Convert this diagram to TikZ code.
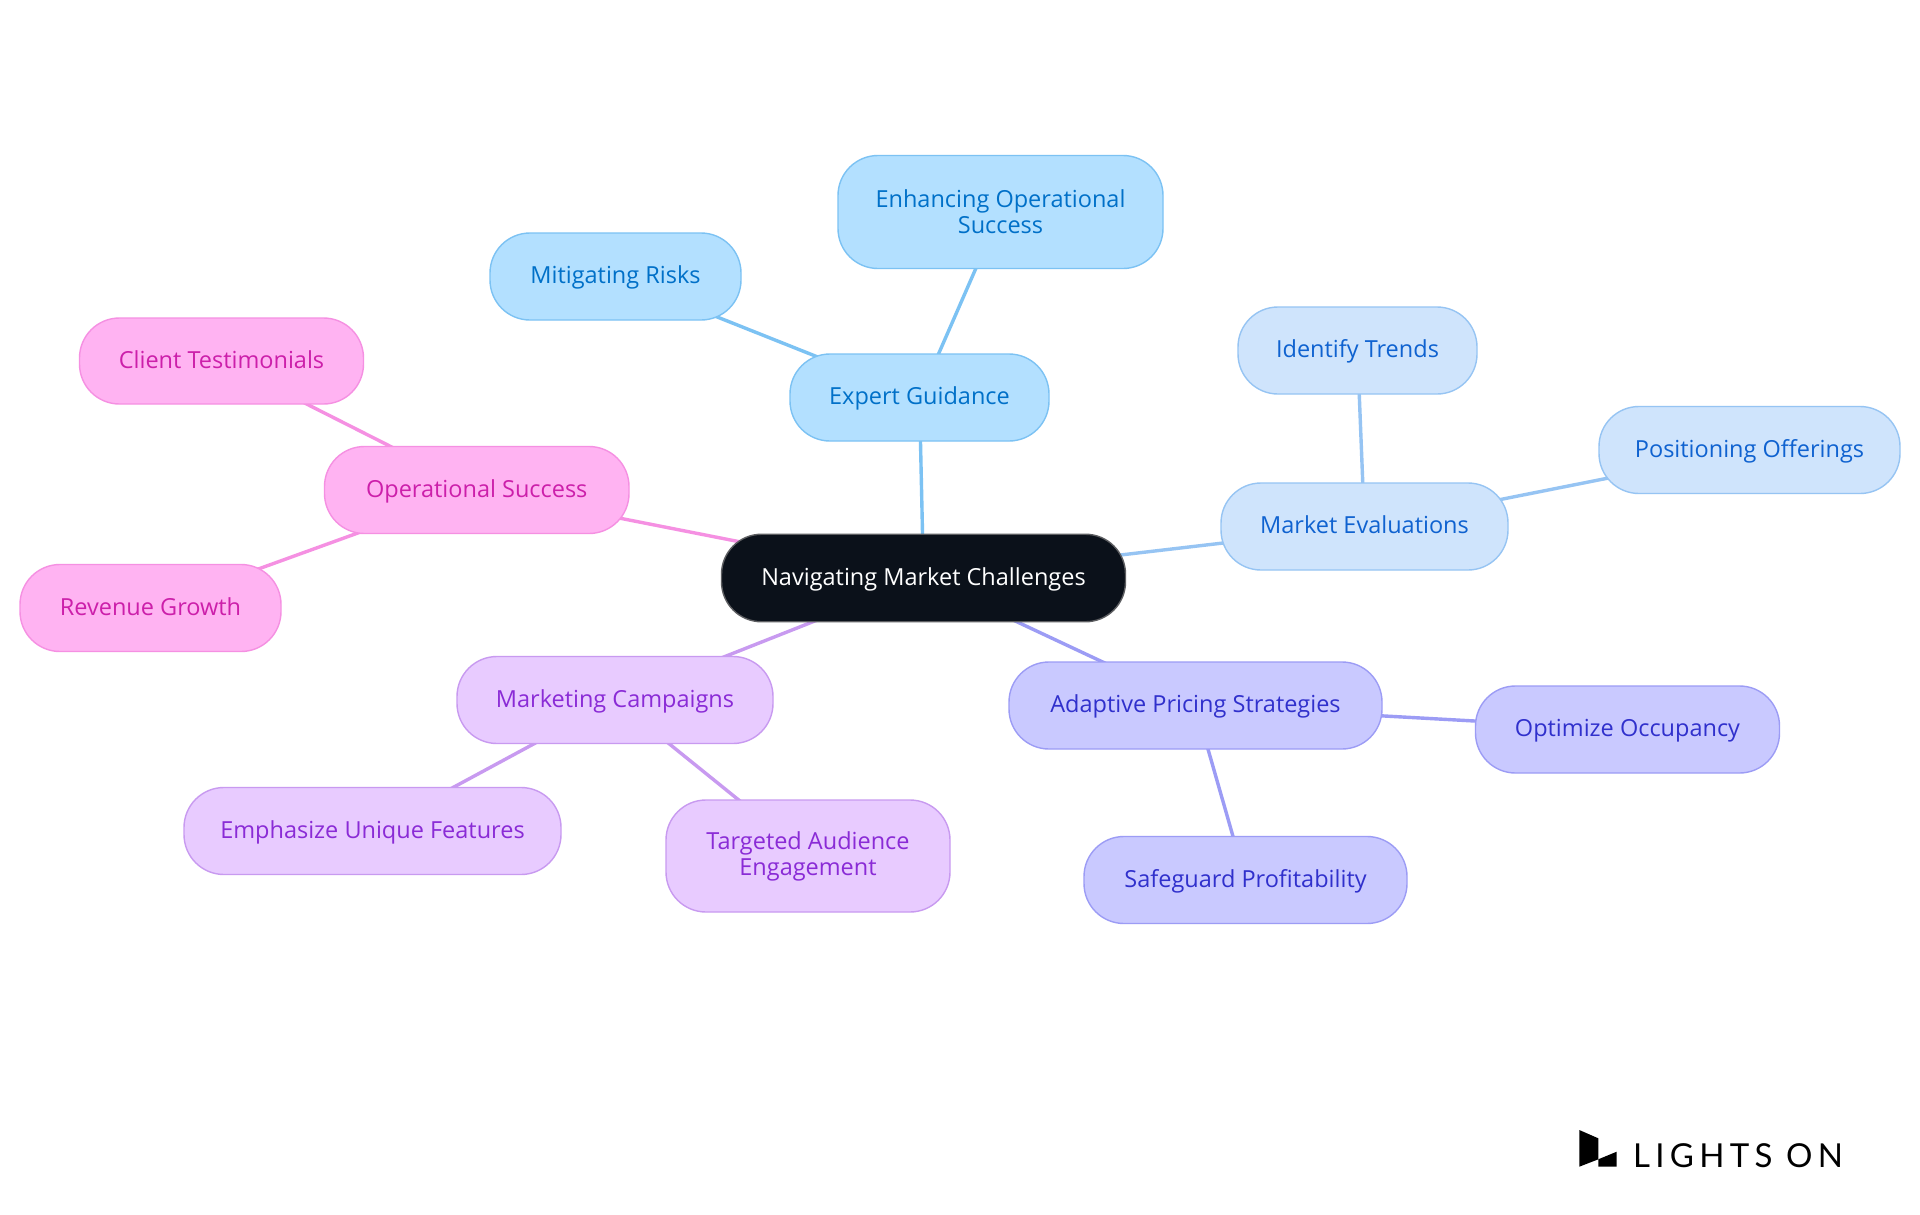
\documentclass[tikz,border=0pt]{standalone}
\usepackage{fontspec}
\setmainfont{Open Sans}
\newfontfamily\logofont[LetterSpace=16]{Lato}
\usetikzlibrary{backgrounds}
\definecolor{bluef}{HTML}{B3E0FF}\definecolor{blues}{HTML}{7CC2F3}\definecolor{bluet}{HTML}{0070C8}
\definecolor{markf}{HTML}{CFE4FC}\definecolor{marks}{HTML}{96C4F3}\definecolor{markt}{HTML}{0F62D0}
\definecolor{adapf}{HTML}{C9C9FF}\definecolor{adaps}{HTML}{9C9CF5}\definecolor{adapt}{HTML}{3030CC}
\definecolor{campf}{HTML}{E8CBFF}\definecolor{camps}{HTML}{C89AF0}\definecolor{campt}{HTML}{8A2BD6}
\definecolor{opsf}{HTML}{FFB3F2}\definecolor{opss}{HTML}{F590E2}\definecolor{opst}{HTML}{CC1FAA}
\definecolor{rootf}{HTML}{0B111A}
\tikzset{
  x=1pt,y=-1pt,
  pill/.style={rectangle,rounded corners=40pt,line width=1.4pt,inner sep=0pt,align=center,
    font=\fontsize{23.5}{26}\selectfont},
  oneline/.style={text height=18pt,text depth=4pt},
  rootn/.style={pill,fill=rootf,draw=gray!70!rootf,text=white},
  guide/.style={pill,fill=bluef,draw=blues,text=bluet},
  market/.style={pill,fill=markf,draw=marks,text=markt},
  adaptive/.style={pill,fill=adapf,draw=adaps,text=adapt},
  campaign/.style={pill,fill=campf,draw=camps,text=campt},
  opsucc/.style={pill,fill=opsf,draw=opss,text=opst},
  link/.style={line width=3.4pt}
}
\begin{document}
\begin{tikzpicture}
\useasboundingbox (0,0) rectangle (1920,1215);
\node[rootn,oneline,minimum width=404pt,minimum height=87.5pt] (root) at (923.5,578) {Navigating Market Challenges};
\node[guide,oneline,minimum width=259pt,minimum height=87pt] (expert) at (919.5,397.5) {Expert Guidance};
\node[guide,minimum width=325pt,minimum height=113pt] (enh) at (1000.5,212) {Enhancing Operational\\Success};
\node[guide,oneline,minimum width=251pt,minimum height=87pt] (mit) at (615.5,276.5) {Mitigating Risks};
\node[market,oneline,minimum width=287pt,minimum height=87pt] (mev) at (1364.5,526.5) {Market Evaluations};
\node[market,oneline,minimum width=239pt,minimum height=87pt] (ide) at (1357.5,350.5) {Identify Trends};
\node[market,oneline,minimum width=301pt,minimum height=87pt] (pos) at (1749.5,450) {Positioning Offerings};
\node[adaptive,oneline,minimum width=373pt,minimum height=87pt] (ada) at (1195.5,705.5) {Adaptive Pricing Strategies};
\node[adaptive,oneline,minimum width=304pt,minimum height=87pt] (opt) at (1627.5,729.5) {Optimize Occupancy};
\node[adaptive,oneline,minimum width=323pt,minimum height=87pt] (saf) at (1245.5,880) {Safeguard Profitability};
\node[campaign,oneline,minimum width=316pt,minimum height=87pt] (cam) at (615,700) {Marketing Campaigns};
\node[campaign,oneline,minimum width=377pt,minimum height=87pt] (emp) at (372.5,831) {Emphasize Unique Features};
\node[campaign,minimum width=284pt,minimum height=112pt] (tar) at (808,856) {Targeted Audience\\Engagement};
\node[opsucc,oneline,minimum width=304.5pt,minimum height=87pt] (ops) at (476.75,490) {Operational Success};
\node[opsucc,oneline,minimum width=284pt,minimum height=86pt] (cli) at (221.5,361) {Client Testimonials};
\node[opsucc,oneline,minimum width=261pt,minimum height=87pt] (rev) at (150.5,608) {Revenue Growth};
\begin{scope}[on background layer]
\fill[white] (0,0) rectangle (1920,1215);
\draw[link,blues] (root.center) -- (expert.center);
\draw[link,blues] (expert.center) -- (enh.center);
\draw[link,blues] (expert.center) -- (mit.center);
\draw[link,marks] (root.center) -- (mev.center);
\draw[link,marks] (mev.center) -- (ide.center);
\draw[link,marks] (mev.center) -- (pos.center);
\draw[link,adaps] (root.center) -- (ada.center);
\draw[link,adaps] (ada.center) -- (opt.center);
\draw[link,adaps] (ada.center) -- (saf.center);
\draw[link,camps] (root.center) -- (cam.center);
\draw[link,camps] (cam.center) -- (emp.center);
\draw[link,camps] (cam.center) -- (tar.center);
\draw[link,opss] (root.center) -- (ops.center);
\draw[link,opss] (ops.center) -- (cli.center);
\draw[link,opss] (ops.center) -- (rev.center);
\end{scope}
\fill[black] (1579.3,1130) -- (1598.3,1138.3) -- (1598.3,1159.3) -- (1579.3,1166.7) -- cycle;
\fill[black] (1598.3,1159.3) -- (1616.7,1151.7) -- (1616.7,1166.7) -- (1598.3,1166.7) -- cycle;
\node[anchor=base west,inner sep=0pt,text=black,font=\logofont\fontsize{33}{33}\selectfont] (logo) at (1633,1167) {LIGHTS ON};
\end{tikzpicture}
\end{document}
